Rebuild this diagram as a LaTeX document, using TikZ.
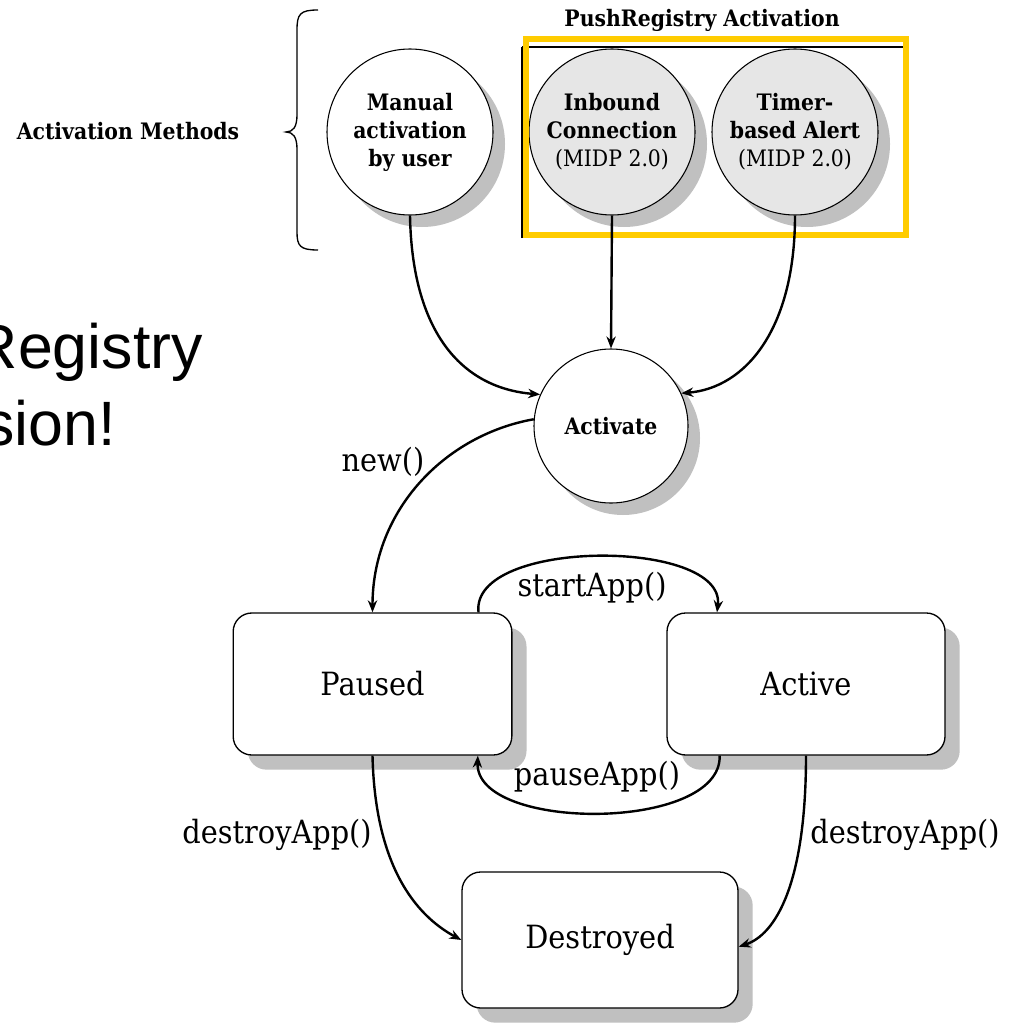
\documentclass[tikz,border=0pt]{standalone}
\usepackage{fontspec}
\usetikzlibrary{arrows.meta,shadows}
\newfontfamily\labfont[FakeStretch=0.9]{DejaVu Serif}
\newfontfamily\hdfont[FakeStretch=0.9]{DejaVu Serif}
\newfontfamily\arialfont{Liberation Sans}
\definecolor{ybox}{RGB}{255,204,0}
\definecolor{cfill}{RGB}{230,230,230}
\definecolor{shad}{RGB}{192,192,192}
\begin{document}
\begin{tikzpicture}[x=0.75pt,y=-0.75pt,
  statecirc/.style={circle,draw,line width=0.8pt,inner sep=0pt,align=center,
    font=\hdfont\bfseries\fontsize{17}{21}\selectfont,
    drop shadow={shadow xshift=9pt,shadow yshift=-9pt,fill=shad,opacity=1}},
  statebox/.style={rectangle,rounded corners=14pt,draw,line width=1pt,fill=white,
    font=\labfont\fontsize{24}{28}\selectfont,
    drop shadow={shadow xshift=11pt,shadow yshift=-11pt,fill=shad,opacity=1}},
  conn/.style={line width=1.8pt,-{Stealth[length=9pt,width=7pt]}},
  lab/.style={font=\labfont\fontsize{24}{28}\selectfont,inner sep=1pt},
  hd/.style={font=\hdfont\bfseries\fontsize{17}{21}\selectfont,inner sep=0pt},
  big/.style={font=\arialfont\fontsize{47}{57}\selectfont,inner sep=0pt}]
\useasboundingbox (0,0) rectangle (1015,1027);
\clip (0,0) rectangle (1015,1027);
\fill[white] (0,0) rectangle (1015,1027);

% left big text (clipped)
\node[big,anchor=base east] (reg) at (203,368) {Registry};
\node[big,anchor=base east] (sion) at (116,445) {sion!};

% activation methods label and brace
\node[hd] (am) at (128,131) {Activation Methods};
\draw[line width=1pt] (318,10) .. controls (300,10) and (297,14) .. (297,30) -- (297,115)
  .. controls (297,127) and (293,132) .. (286,132)
  .. controls (293,132) and (297,137) .. (297,149) -- (297,232)
  .. controls (297,246) and (300,250) .. (318,250);

% push registry group
\node[hd] (prt) at (702,20) {PushRegistry Activation};
\draw[line width=0.8pt] (522,238) -- (522,47);
\draw[line width=2pt] (522,47) -- (903,47);

% circles
\node[statecirc,fill=white,minimum size=124.5pt] (man) at (410,132) {Manual\\activation\\by user};
\node[statecirc,fill=cfill,minimum size=124.5pt] (inb) at (612,132) {Inbound\\Connection\\{\mdseries (MIDP 2.0)}};
\node[statecirc,fill=cfill,minimum size=124.5pt] (tim) at (795,132) {Timer-\\based Alert\\{\mdseries (MIDP 2.0)}};
\node[statecirc,fill=white,minimum size=115.5pt] (act) at (611,426) {Activate};

\draw[ybox,line width=4.5pt] (526,39) rectangle (906,235);

% boxes
\node[statebox,minimum width=209pt,minimum height=106.5pt] (paused) at (372.5,684) {Paused};
\node[statebox,minimum width=208.5pt,minimum height=106.5pt] (active) at (806,684) {Active};
\node[statebox,minimum width=207pt,minimum height=102pt] (destroyed) at (600,940) {Destroyed};

% connectors to Activate
\draw[conn] (man.south) .. controls (412,330) and (460,388) .. (act.156);
\draw[conn] (inb.south) -- (act.north);
\draw[conn] (tim.south) .. controls (795,330) and (745,388) .. (act.25);

% new()
\draw[conn] (act.175) .. controls (445,435) and (372.5,510) .. (paused.north);
\node[lab] (newl) at (383,462) {new()};

% startApp / pauseApp
\draw[conn] ([xshift=-25.5pt]paused.north east) .. controls (470,538) and (726,538) .. ([xshift=38pt]active.north west);
\node[lab] (startl) at (592,588) {startApp()};
\draw[conn] ([xshift=40pt]active.south west) .. controls (722,832) and (475,832) .. ([xshift=-26pt]paused.south east);
\node[lab] (pausel) at (597,777) {pauseApp()};

% destroyApp
\draw[conn] (paused.south) .. controls (375,865) and (415,915) .. (destroyed.west);
\node[lab] (dl) at (277,835) {destroyApp()};
\draw[conn] (active.south) .. controls (806,885) and (775,935) .. ([yshift=-5pt]destroyed.east);
\node[lab] (dr) at (905,835) {destroyApp()};
\end{tikzpicture}
\end{document}
